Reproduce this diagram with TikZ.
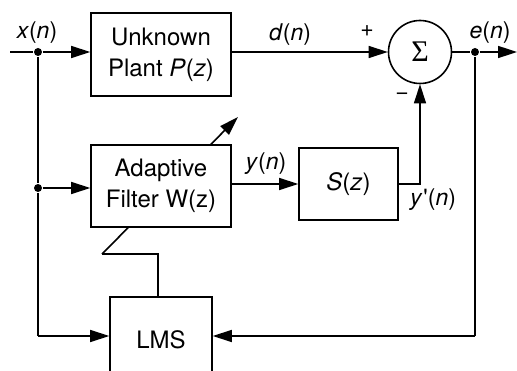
\documentclass[tikz,border=0pt]{standalone}
\usepackage{fontspec}
\setmainfont{TeX Gyre Heros}
\newfontfamily\sigfont{Liberation Serif}
\usetikzlibrary{arrows.meta}
\begin{document}
\begin{tikzpicture}[x=1pt,y=-1pt,line width=1.6pt,
  >={Triangle[length=19pt,width=12pt]},
  blk/.style={draw,fill=white,align=center,inner sep=0pt,font=\fontsize{24}{31}\selectfont},
  lbl/.style={inner sep=0pt,font=\fontsize{23}{26}\selectfont},
  dot/.style={circle,fill=black,inner sep=0pt,minimum size=8pt}]
\useasboundingbox (0,0) rectangle (517,371);
% nodes
\node[blk,minimum width=140pt,minimum height=83pt] (plant) at (161,54.5) {Unknown\\Plant \textit{P}(\textit{z})};
\node[draw,circle,minimum size=63pt,inner sep=0pt,font=\sigfont\fontsize{30}{30}\selectfont] (sigma) at (420,52) {Σ};
\node[blk,minimum width=102pt,minimum height=86pt] (lms) at (161,340) {LMS};
\node[blk,minimum width=99pt,minimum height=72pt] (S) at (348.5,184) {\textit{S}(\textit{z})};
% adaptation zigzag and diagonal arrow (drawn before filter so it is hidden)
\coordinate (z1) at (158,254);
\coordinate (z2) at (102,254);
\coordinate (z3) at (238,117);
\draw (lms.north -| z1) -- (z1) -- (z2);
\draw[->] (z2) -- (z3);
\node[blk,minimum width=140pt,minimum height=82pt] (filter) at (161,186) {Adaptive\\Filter W(z)};
% junctions
\coordinate (in) at (10,52);
\node[dot] (j1) at (38,52) {};
\node[dot] (j3) at (38,188) {};
\node[dot] (j2) at (475,52) {};
\coordinate (out) at (517,52);
\coordinate (c1) at (38,336);
\coordinate (c2) at (475,336);
% connectors
\draw (in) -- (j1);
\draw[->] (j1) -- (j1 -| plant.west);
\draw[->] (plant.east |- sigma.west) -- (sigma.west);
\draw (sigma.east) -- (j2);
\draw[->] (j2) -- (out);
\draw (j1) -- (j3);
\draw[->] (j3) -- (j3 -| filter.west);
\draw (j3) -- (c1);
\draw[->] (c1) -- (c1 -| lms.west);
\draw (j2) -- (c2);
\draw[->] (c2) -- (c2 -| lms.east);
\draw[->] (filter.east |- S.west) -- (S.west);
\draw[->] (S.east) -- (S.east -| sigma.south) -- (sigma.south);
% labels
\node[lbl] (lx) at (37,33) {\textit{x}(\textit{n})};
\node[lbl] (ld) at (290,35) {\textit{d}(\textit{n})};
\node[lbl] (lp) at (367,31) {+};
\node[lbl] (lm) at (402,96) {−};
\node[lbl] (le) at (490,33) {\textit{e}(\textit{n})};
\node[lbl] (ly) at (266,164) {\textit{y}(\textit{n})};
\node[lbl] (lyp) at (433,200) {\textit{y}\kern1pt\textquotesingle(\textit{n})};
\end{tikzpicture}
\end{document}
